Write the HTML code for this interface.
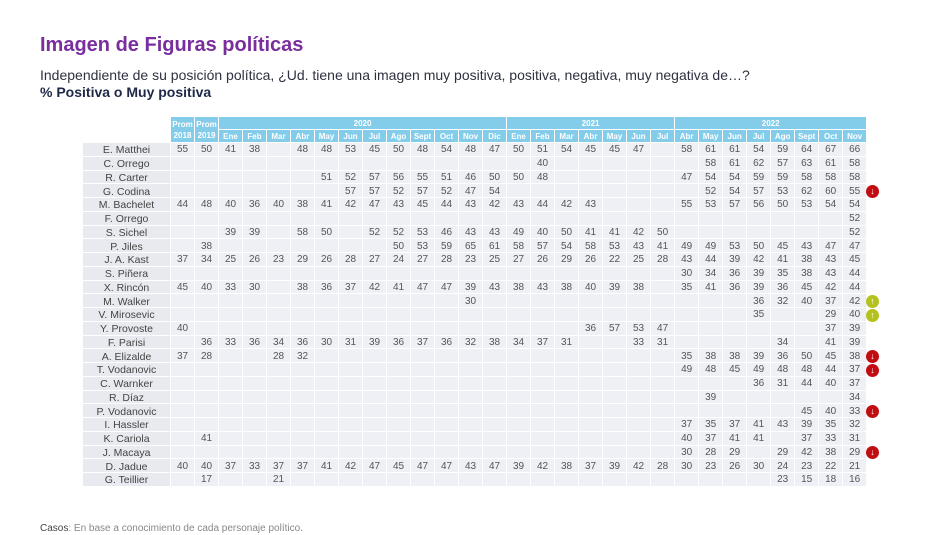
<!DOCTYPE html>
<html><head><meta charset="utf-8"><style>
body{margin:0;width:950px;height:535px;background:#fff;position:relative;overflow:hidden;font-family:"Liberation Sans",sans-serif}
.t{position:absolute;left:40px;top:34px;font-size:20px;font-weight:bold;color:#7a2e9e}
.s{position:absolute;left:40px;top:67px;font-size:14px;color:#2e3140}
.b{position:absolute;left:40px;top:84px;font-size:14px;font-weight:bold;color:#1f2947}
.f{position:absolute;left:40px;top:523px;font-size:10px;color:#888}
.f b{color:#444;font-weight:normal}
table{position:absolute;left:82px;top:116px;border-collapse:collapse;table-layout:fixed;width:784px}
td,th{border:1px solid #fff;padding:0;text-align:center;overflow:hidden;white-space:nowrap}
th{background:#84cdea;color:#fff;font-size:8px;font-weight:bold;height:12px;line-height:11px}
th.e{background:#fff}
tbody tr{height:13.75px}
td{background:#eef0f5;font-size:10px;color:#555;line-height:10px;padding-top:2px}
td:first-child{background:#e8eaef;font-size:10.5px;color:#444}
.a{position:absolute;left:866px;width:13px;height:13px;border-radius:7px;color:#fff;font-size:9px;font-weight:bold;text-align:center;line-height:13px}
.r{background:#c10d12}.g{background:#b4c11e}
</style></head><body>
<div class="t">Imagen de Figuras políticas</div>
<div class="s">Independiente de su posición política, ¿Ud. tiene una imagen muy positiva, positiva, negativa, muy negativa de…?</div>
<div class="b">% Positiva o Muy positiva</div>
<table>
<colgroup><col style="width:88px"><col span="29" style="width:24px"></colgroup>
<thead>
<tr><th class="e" rowspan="2"></th><th rowspan="2">Prom<br>2018</th><th rowspan="2">Prom<br>2019</th><th colspan="12">2020</th><th colspan="7">2021</th><th colspan="8">2022</th></tr>
<tr><th>Ene</th><th>Feb</th><th>Mar</th><th>Abr</th><th>May</th><th>Jun</th><th>Jul</th><th>Ago</th><th>Sept</th><th>Oct</th><th>Nov</th><th>Dic</th><th>Ene</th><th>Feb</th><th>Mar</th><th>Abr</th><th>May</th><th>Jun</th><th>Jul</th><th>Abr</th><th>May</th><th>Jun</th><th>Jul</th><th>Ago</th><th>Sept</th><th>Oct</th><th>Nov</th></tr>
</thead>
<tbody>
<tr><td>E. Matthei</td><td>55</td><td>50</td><td>41</td><td>38</td><td></td><td>48</td><td>48</td><td>53</td><td>45</td><td>50</td><td>48</td><td>54</td><td>48</td><td>47</td><td>50</td><td>51</td><td>54</td><td>45</td><td>45</td><td>47</td><td></td><td>58</td><td>61</td><td>61</td><td>54</td><td>59</td><td>64</td><td>67</td><td>66</td></tr>
<tr><td>C. Orrego</td><td></td><td></td><td></td><td></td><td></td><td></td><td></td><td></td><td></td><td></td><td></td><td></td><td></td><td></td><td></td><td>40</td><td></td><td></td><td></td><td></td><td></td><td></td><td>58</td><td>61</td><td>62</td><td>57</td><td>63</td><td>61</td><td>58</td></tr>
<tr><td>R. Carter</td><td></td><td></td><td></td><td></td><td></td><td></td><td>51</td><td>52</td><td>57</td><td>56</td><td>55</td><td>51</td><td>46</td><td>50</td><td>50</td><td>48</td><td></td><td></td><td></td><td></td><td></td><td>47</td><td>54</td><td>54</td><td>59</td><td>59</td><td>58</td><td>58</td><td>58</td></tr>
<tr><td>G. Codina</td><td></td><td></td><td></td><td></td><td></td><td></td><td></td><td>57</td><td>57</td><td>52</td><td>57</td><td>52</td><td>47</td><td>54</td><td></td><td></td><td></td><td></td><td></td><td></td><td></td><td></td><td>52</td><td>54</td><td>57</td><td>53</td><td>62</td><td>60</td><td>55</td></tr>
<tr><td>M. Bachelet</td><td>44</td><td>48</td><td>40</td><td>36</td><td>40</td><td>38</td><td>41</td><td>42</td><td>47</td><td>43</td><td>45</td><td>44</td><td>43</td><td>42</td><td>43</td><td>44</td><td>42</td><td>43</td><td></td><td></td><td></td><td>55</td><td>53</td><td>57</td><td>56</td><td>50</td><td>53</td><td>54</td><td>54</td></tr>
<tr><td>F. Orrego</td><td></td><td></td><td></td><td></td><td></td><td></td><td></td><td></td><td></td><td></td><td></td><td></td><td></td><td></td><td></td><td></td><td></td><td></td><td></td><td></td><td></td><td></td><td></td><td></td><td></td><td></td><td></td><td></td><td>52</td></tr>
<tr><td>S. Sichel</td><td></td><td></td><td>39</td><td>39</td><td></td><td>58</td><td>50</td><td></td><td>52</td><td>52</td><td>53</td><td>46</td><td>43</td><td>43</td><td>49</td><td>40</td><td>50</td><td>41</td><td>41</td><td>42</td><td>50</td><td></td><td></td><td></td><td></td><td></td><td></td><td></td><td>52</td></tr>
<tr><td>P. Jiles</td><td></td><td>38</td><td></td><td></td><td></td><td></td><td></td><td></td><td></td><td>50</td><td>53</td><td>59</td><td>65</td><td>61</td><td>58</td><td>57</td><td>54</td><td>58</td><td>53</td><td>43</td><td>41</td><td>49</td><td>49</td><td>53</td><td>50</td><td>45</td><td>43</td><td>47</td><td>47</td></tr>
<tr><td>J. A. Kast</td><td>37</td><td>34</td><td>25</td><td>26</td><td>23</td><td>29</td><td>26</td><td>28</td><td>27</td><td>24</td><td>27</td><td>28</td><td>23</td><td>25</td><td>27</td><td>26</td><td>29</td><td>26</td><td>22</td><td>25</td><td>28</td><td>43</td><td>44</td><td>39</td><td>42</td><td>41</td><td>38</td><td>43</td><td>45</td></tr>
<tr><td>S. Piñera</td><td></td><td></td><td></td><td></td><td></td><td></td><td></td><td></td><td></td><td></td><td></td><td></td><td></td><td></td><td></td><td></td><td></td><td></td><td></td><td></td><td></td><td>30</td><td>34</td><td>36</td><td>39</td><td>35</td><td>38</td><td>43</td><td>44</td></tr>
<tr><td>X. Rincón</td><td>45</td><td>40</td><td>33</td><td>30</td><td></td><td>38</td><td>36</td><td>37</td><td>42</td><td>41</td><td>47</td><td>47</td><td>39</td><td>43</td><td>38</td><td>43</td><td>38</td><td>40</td><td>39</td><td>38</td><td></td><td>35</td><td>41</td><td>36</td><td>39</td><td>36</td><td>45</td><td>42</td><td>44</td></tr>
<tr><td>M. Walker</td><td></td><td></td><td></td><td></td><td></td><td></td><td></td><td></td><td></td><td></td><td></td><td></td><td>30</td><td></td><td></td><td></td><td></td><td></td><td></td><td></td><td></td><td></td><td></td><td></td><td>36</td><td>32</td><td>40</td><td>37</td><td>42</td></tr>
<tr><td>V. Mirosevic</td><td></td><td></td><td></td><td></td><td></td><td></td><td></td><td></td><td></td><td></td><td></td><td></td><td></td><td></td><td></td><td></td><td></td><td></td><td></td><td></td><td></td><td></td><td></td><td></td><td>35</td><td></td><td></td><td>29</td><td>40</td></tr>
<tr><td>Y. Provoste</td><td>40</td><td></td><td></td><td></td><td></td><td></td><td></td><td></td><td></td><td></td><td></td><td></td><td></td><td></td><td></td><td></td><td></td><td>36</td><td>57</td><td>53</td><td>47</td><td></td><td></td><td></td><td></td><td></td><td></td><td>37</td><td>39</td></tr>
<tr><td>F. Parisi</td><td></td><td>36</td><td>33</td><td>36</td><td>34</td><td>36</td><td>30</td><td>31</td><td>39</td><td>36</td><td>37</td><td>36</td><td>32</td><td>38</td><td>34</td><td>37</td><td>31</td><td></td><td></td><td>33</td><td>31</td><td></td><td></td><td></td><td></td><td>34</td><td></td><td>41</td><td>39</td></tr>
<tr><td>A. Elizalde</td><td>37</td><td>28</td><td></td><td></td><td>28</td><td>32</td><td></td><td></td><td></td><td></td><td></td><td></td><td></td><td></td><td></td><td></td><td></td><td></td><td></td><td></td><td></td><td>35</td><td>38</td><td>38</td><td>39</td><td>36</td><td>50</td><td>45</td><td>38</td></tr>
<tr><td>T. Vodanovic</td><td></td><td></td><td></td><td></td><td></td><td></td><td></td><td></td><td></td><td></td><td></td><td></td><td></td><td></td><td></td><td></td><td></td><td></td><td></td><td></td><td></td><td>49</td><td>48</td><td>45</td><td>49</td><td>48</td><td>48</td><td>44</td><td>37</td></tr>
<tr><td>C. Warnker</td><td></td><td></td><td></td><td></td><td></td><td></td><td></td><td></td><td></td><td></td><td></td><td></td><td></td><td></td><td></td><td></td><td></td><td></td><td></td><td></td><td></td><td></td><td></td><td></td><td>36</td><td>31</td><td>44</td><td>40</td><td>37</td></tr>
<tr><td>R. Díaz</td><td></td><td></td><td></td><td></td><td></td><td></td><td></td><td></td><td></td><td></td><td></td><td></td><td></td><td></td><td></td><td></td><td></td><td></td><td></td><td></td><td></td><td></td><td>39</td><td></td><td></td><td></td><td></td><td></td><td>34</td></tr>
<tr><td>P. Vodanovic</td><td></td><td></td><td></td><td></td><td></td><td></td><td></td><td></td><td></td><td></td><td></td><td></td><td></td><td></td><td></td><td></td><td></td><td></td><td></td><td></td><td></td><td></td><td></td><td></td><td></td><td></td><td>45</td><td>40</td><td>33</td></tr>
<tr><td>I. Hassler</td><td></td><td></td><td></td><td></td><td></td><td></td><td></td><td></td><td></td><td></td><td></td><td></td><td></td><td></td><td></td><td></td><td></td><td></td><td></td><td></td><td></td><td>37</td><td>35</td><td>37</td><td>41</td><td>43</td><td>39</td><td>35</td><td>32</td></tr>
<tr><td>K. Cariola</td><td></td><td>41</td><td></td><td></td><td></td><td></td><td></td><td></td><td></td><td></td><td></td><td></td><td></td><td></td><td></td><td></td><td></td><td></td><td></td><td></td><td></td><td>40</td><td>37</td><td>41</td><td>41</td><td></td><td>37</td><td>33</td><td>31</td></tr>
<tr><td>J. Macaya</td><td></td><td></td><td></td><td></td><td></td><td></td><td></td><td></td><td></td><td></td><td></td><td></td><td></td><td></td><td></td><td></td><td></td><td></td><td></td><td></td><td></td><td>30</td><td>28</td><td>29</td><td></td><td>29</td><td>42</td><td>38</td><td>29</td></tr>
<tr><td>D. Jadue</td><td>40</td><td>40</td><td>37</td><td>33</td><td>37</td><td>37</td><td>41</td><td>42</td><td>47</td><td>45</td><td>47</td><td>47</td><td>43</td><td>47</td><td>39</td><td>42</td><td>38</td><td>37</td><td>39</td><td>42</td><td>28</td><td>30</td><td>23</td><td>26</td><td>30</td><td>24</td><td>23</td><td>22</td><td>21</td></tr>
<tr><td>G. Teillier</td><td></td><td>17</td><td></td><td></td><td>21</td><td></td><td></td><td></td><td></td><td></td><td></td><td></td><td></td><td></td><td></td><td></td><td></td><td></td><td></td><td></td><td></td><td></td><td></td><td></td><td></td><td>23</td><td>15</td><td>18</td><td>16</td></tr>
</tbody>
</table>
<div class="a r" style="top:185px">↓</div>
<div class="a g" style="top:295px">↑</div>
<div class="a g" style="top:309px">↑</div>
<div class="a r" style="top:350px">↓</div>
<div class="a r" style="top:364px">↓</div>
<div class="a r" style="top:405px">↓</div>
<div class="a r" style="top:446px">↓</div>
<div class="f"><b>Casos</b>: En base a conocimiento de cada personaje político.</div>
</body></html>
